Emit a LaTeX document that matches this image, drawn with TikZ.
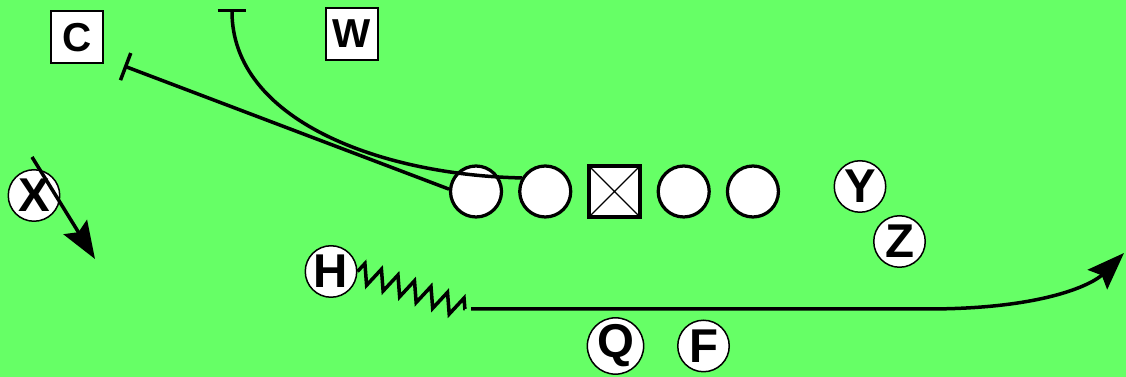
\documentclass[tikz,border=0pt]{standalone}
\usepackage{fontspec}
\setmainfont{Liberation Sans}
\usepackage{xcolor}
\usetikzlibrary{positioning, arrows.meta, decorations.pathmorphing}
\definecolor{field}{HTML}{66FF66}

\begin{document}
\begin{tikzpicture}[
    x=0.02cm, y=-0.02cm,
    node distance=0.3cm,
    lineman/.style={circle, draw, line width=0.065cm, fill=white, minimum size=1.02cm, inner sep=0pt},
    snapper/.style={rectangle, draw, line width=0.065cm, fill=white, minimum size=1.02cm, inner sep=0pt,
        path picture={\draw[line width=0.025cm] (path picture bounding box.north west) -- (path picture bounding box.south east)
            (path picture bounding box.north east) -- (path picture bounding box.south west);}},
    player/.style={circle, draw, line width=0.03cm, fill=white, minimum size=1.03cm, inner sep=0pt, font=\fontsize{27}{27}\selectfont\bfseries},
    defender/.style={rectangle, draw, line width=0.04cm, fill=white, minimum size=1.04cm, inner sep=0pt, font=\fontsize{23}{23}\selectfont\bfseries},
    route/.style={line width=0.07cm},
    block/.style={route, {Bar[width=0.58cm]}-},
    go/.style={route, -{Stealth[length=0.75cm, width=0.55cm, inset=0.12cm]}}
]
    \useasboundingbox (0,0) rectangle (1126,377);
    \fill[field] (0,0) rectangle (1126,377);

    % line
    \node[lineman] (lg) at (476,191.5) {};
    \node[lineman, right=of lg] (l2) {};
    \node[snapper, right=of l2] (snap) {};
    \node[lineman, right=of snap] (l4) {};
    \node[lineman, right=of l4] (l5) {};

    % backs and receivers
    \node[player] (X) at (34,195.5) {X};
    \node[player] (H) at (331,271.5) {H};
    \node[player] (Q) at (615.5,346) {Q};
    \node[player] (F) at (703.5,346) {F};
    \node[player] (Y) at (860,186.5) {Y};
    \node[player] (Z) at (899.5,241.5) {Z};

    % defense
    \node[defender] (C) at (77,37.5) {C};
    \node[defender] (W) at (352,34) {W};

    % routes
    \coordinate (cblk) at (124,66);
    \coordinate (wblk) at (232,9);
    \coordinate (xs) at (32,157);
    \coordinate (xe) at (95,259);
    \coordinate (zz) at (465,309);
    \coordinate (hs) at (471,309);
    \coordinate (hb) at (927,309);
    \coordinate (he) at (1124,253);

    \draw[block] (cblk) -- (lg.175);
    \draw[block] (wblk) .. controls (232,120) and (380,175) .. (l2.150);
    \draw[go] (xs) -- (xe);
    \draw[route, decorate, decoration={zigzag, segment length=0.35cm, amplitude=0.2cm}] (H.east) -- (zz);
    \draw[go] (hs) -- (hb) .. controls (1050,309) and (1095,282) .. (he);
\end{tikzpicture}
\end{document}
